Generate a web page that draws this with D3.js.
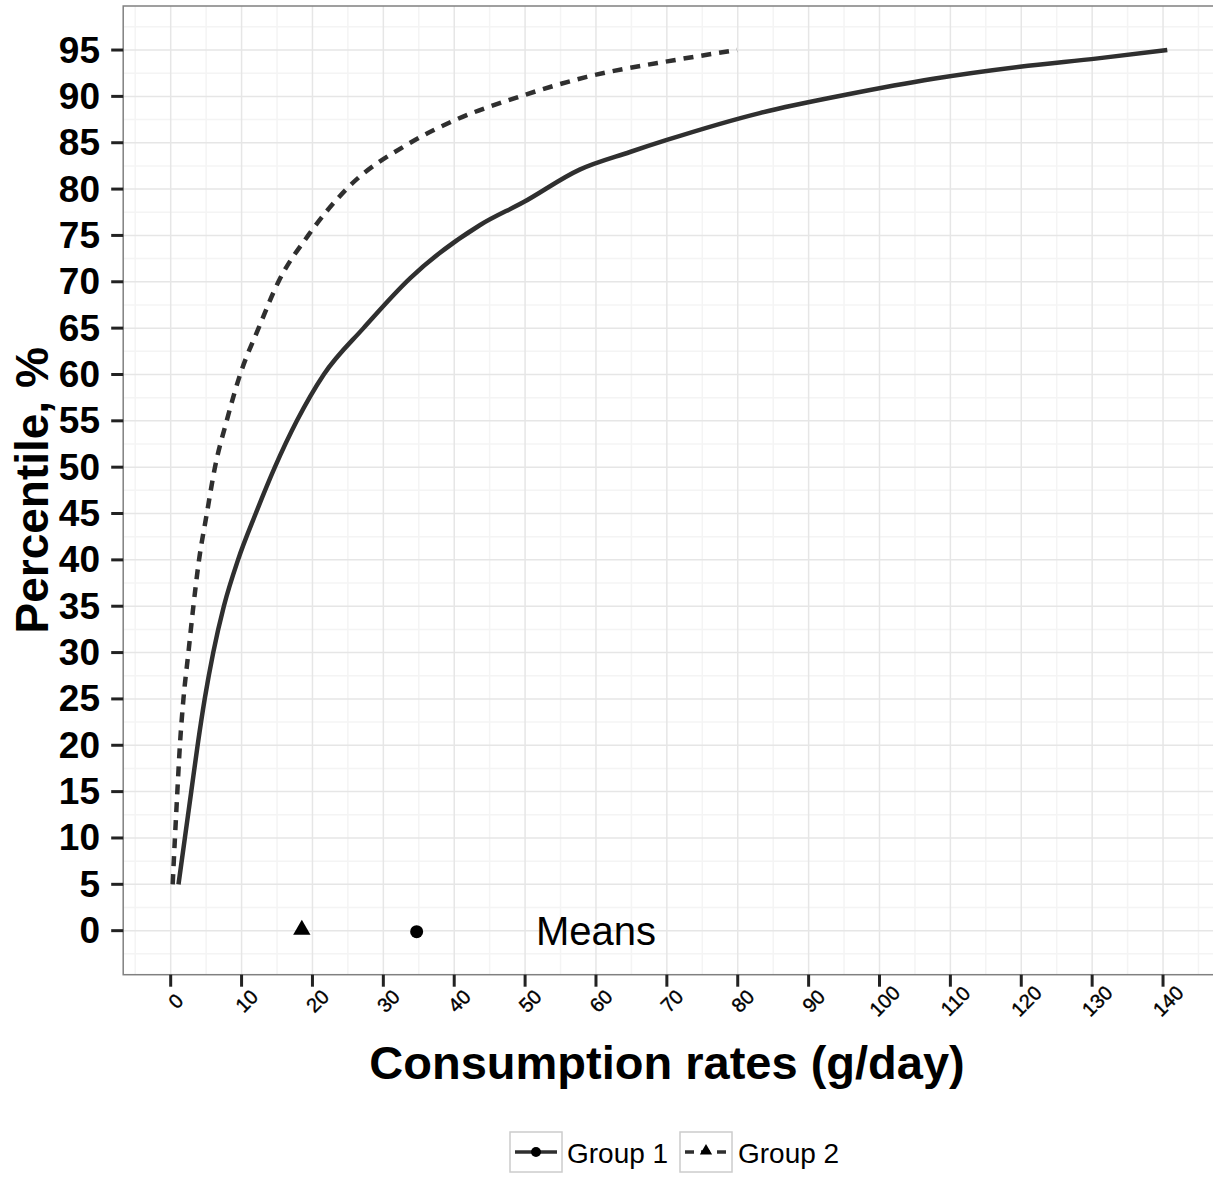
<!DOCTYPE html>
<html>
<head>
<meta charset="utf-8">
<script src="https://cdn.jsdelivr.net/npm/d3@7"></script>
<style>
  html, body { margin: 0; padding: 0; background: #ffffff; }
  svg { display: block; font-family: "Liberation Sans", Arial, Helvetica, sans-serif; }
</style>
</head>
<body>
<svg id="chart" width="1213" height="1180"></svg>
<script>
// Cumulative percentile curves of daily consumption (g/day)
const groups = ["Group 1", "Group 2"];

// Group 1: consumption (g/day) at each percentile
const group1Rate = [1.1, 2.0, 2.9, 3.8, 4.8, 6.0, 7.5, 9.5, 12.0, 14.7, 17.8, 21.6, 27.2, 33.8, 43.6, 49.8, 57.7, 64.8, 70.0, 83.1, 95.4, 107.6, 119.8, 130.8, 140.6];
const group1Pct  = [5, 10, 15, 20, 25, 30, 35, 40, 45, 50, 55, 60, 65, 70.4, 76.1, 78.6, 82.1, 84, 85.3, 88.2, 90.2, 91.9, 93.2, 94.1, 95];

// Group 2: consumption (g/day) at each percentile
const group2Rate = [0.28, 0.6, 0.94, 1.3, 1.8, 2.5, 3.2, 4.0, 5.1, 6.25, 7.9, 9.8, 12.4, 15.2, 19.4, 24.8, 33.8, 40.3, 49.3, 58.7, 71.0, 79.9];
const group2Pct  = [5, 10, 15, 20, 25, 30, 35, 40, 45, 50, 55, 60, 65, 70, 75, 80, 85, 87.5, 90, 92.1, 93.9, 95];

// Mean consumption per group, shown on the 0 row
const meanRates = [34.7, 18.5];
const meanLabel = "Means";
const meanLabelAt = 60;

// Axis ticks
const xTicks = d3.range(0, 141, 10);
const yTicks = d3.range(0, 96, 5);
const xTitle = "Consumption rates (g/day)";
const yTitle = "Percentile, %";

const svg = d3.select("#chart");
const lineColor = "#2f2f2f";

const x = d3.scaleLinear().domain([-6.7, 147.6]).range([123.2, 1216.9]);
const y = d3.scaleLinear().domain([-4.75, 99.75]).range([974.7, 6.0]);

const [px0, px1] = x.range();
const [py0, py1] = y.range();

// panel background
svg.append("rect")
  .attr("x", px0).attr("y", py1)
  .attr("width", px1 - px0).attr("height", py0 - py1)
  .attr("fill", "#ffffff");

const grid = svg.append("g");
// minor grid
const xMinor = d3.range(-5, 150, 10);
const yMinor = d3.range(-2.5, 100, 5);
grid.selectAll(".xminor").data(xMinor).join("line")
  .attr("x1", d => x(d)).attr("x2", d => x(d))
  .attr("y1", py1).attr("y2", py0)
  .attr("stroke", "#f4f4f4").attr("stroke-width", 1.5);
grid.selectAll(".yminor").data(yMinor).join("line")
  .attr("x1", px0).attr("x2", px1)
  .attr("y1", d => y(d)).attr("y2", d => y(d))
  .attr("stroke", "#f4f4f4").attr("stroke-width", 1.5);
// major grid
grid.selectAll(".xmajor").data(xTicks).join("line")
  .attr("x1", d => x(d)).attr("x2", d => x(d))
  .attr("y1", py1).attr("y2", py0)
  .attr("stroke", "#e6e6e6").attr("stroke-width", 1.5);
grid.selectAll(".ymajor").data(yTicks).join("line")
  .attr("x1", px0).attr("x2", px1)
  .attr("y1", d => y(d)).attr("y2", d => y(d))
  .attr("stroke", "#e6e6e6").attr("stroke-width", 1.5);

// curves
const line = d3.line()
  .x(d => x(d[0]))
  .y(d => y(d[1]))
  .curve(d3.curveMonotoneX);

const g1 = group1Rate.map((r, i) => [r, group1Pct[i]]);
const g2 = group2Rate.map((r, i) => [r, group2Pct[i]]);

svg.append("path")
  .attr("d", line(g2))
  .attr("fill", "none")
  .attr("stroke", lineColor)
  .attr("stroke-width", 4.5)
  .attr("stroke-dasharray", "10,8");

svg.append("path")
  .attr("d", line(g1))
  .attr("fill", "none")
  .attr("stroke", lineColor)
  .attr("stroke-width", 4.5);

// mean markers
const tri = d3.symbol().type(d3.symbolTriangle).size(130);
svg.append("path")
  .attr("d", tri())
  .attr("transform", `translate(${x(meanRates[1])},${y(0) - 1})`)
  .attr("fill", "#000");
svg.append("circle")
  .attr("cx", x(meanRates[0])).attr("cy", y(0) + 1)
  .attr("r", 6.5).attr("fill", "#000");

svg.append("text")
  .attr("x", x(meanLabelAt)).attr("y", y(0))
  .attr("text-anchor", "middle")
  .attr("dominant-baseline", "central")
  .attr("font-size", 40)
  .attr("fill", "#000")
  .text(meanLabel);

// panel border
svg.append("rect")
  .attr("x", px0).attr("y", py1)
  .attr("width", px1 - px0).attr("height", py0 - py1)
  .attr("fill", "none")
  .attr("stroke", "#808080").attr("stroke-width", 1.5);

// y axis
const yAxis = svg.append("g");
yAxis.selectAll("line").data(yTicks).join("line")
  .attr("x1", px0 - 12).attr("x2", px0)
  .attr("y1", d => y(d)).attr("y2", d => y(d))
  .attr("stroke", "#222").attr("stroke-width", 3);
yAxis.selectAll("text").data(yTicks).join("text")
  .attr("x", 100).attr("y", d => y(d))
  .attr("text-anchor", "end")
  .attr("dominant-baseline", "central")
  .attr("font-size", 37)
  .attr("font-weight", "bold")
  .attr("fill", "#000")
  .text(d => d);

// x axis
const xAxis = svg.append("g");
xAxis.selectAll("line").data(xTicks).join("line")
  .attr("x1", d => x(d)).attr("x2", d => x(d))
  .attr("y1", py0).attr("y2", py0 + 12)
  .attr("stroke", "#222").attr("stroke-width", 3);
xAxis.selectAll("text").data(xTicks).join("text")
  .attr("transform", d => `translate(${x(d) + 5},${1001}) rotate(-45)`)
  .attr("text-anchor", "middle")
  .attr("dominant-baseline", "central")
  .attr("font-size", 20)
  .attr("fill", "#000")
  .attr("stroke", "#000")
  .attr("stroke-width", 0.4)
  .text(d => d);

// axis titles
svg.append("text")
  .attr("x", (px0 + px1) / 2 - 3).attr("y", 1062)
  .attr("text-anchor", "middle")
  .attr("dominant-baseline", "central")
  .attr("font-size", 47)
  .attr("font-weight", "bold")
  .attr("fill", "#000")
  .text(xTitle);

svg.append("text")
  .attr("transform", `translate(32,${(py0 + py1) / 2}) rotate(-90)`)
  .attr("text-anchor", "middle")
  .attr("dominant-baseline", "central")
  .attr("font-size", 46)
  .attr("font-weight", "bold")
  .attr("fill", "#000")
  .text(yTitle);

// legend
const legend = svg.append("g");
const keyW = 52, keyH = 40, keyY = 1132;
const legendItems = [
  { label: groups[0], dash: null, shape: "circle", kx: 510, tx: 567 },
  { label: groups[1], dash: "9,7", shape: "triangle", kx: 680, tx: 738 }
];
legendItems.forEach(item => {
  const gk = legend.append("g");
  gk.append("rect")
    .attr("x", item.kx).attr("y", keyY)
    .attr("width", keyW).attr("height", keyH)
    .attr("fill", "#fff")
    .attr("stroke", "#cccccc").attr("stroke-width", 1.5);
  const cx = item.kx + keyW / 2, cy = keyY + keyH / 2;
  gk.append("line")
    .attr("x1", item.kx + 5).attr("x2", item.kx + keyW - 5)
    .attr("y1", cy).attr("y2", cy)
    .attr("stroke", lineColor).attr("stroke-width", 3.5)
    .attr("stroke-dasharray", item.dash);
  if (item.shape === "circle") {
    gk.append("circle").attr("cx", cx).attr("cy", cy).attr("r", 5).attr("fill", "#000");
  } else {
    gk.append("path")
      .attr("d", d3.symbol().type(d3.symbolTriangle).size(65)())
      .attr("transform", `translate(${cx},${cy - 1})`)
      .attr("fill", "#000");
  }
  legend.append("text")
    .attr("x", item.tx).attr("y", cy + 1)
    .attr("dominant-baseline", "central")
    .attr("font-size", 28)
    .attr("fill", "#000")
    .text(item.label);
});
</script>
</body>
</html>
